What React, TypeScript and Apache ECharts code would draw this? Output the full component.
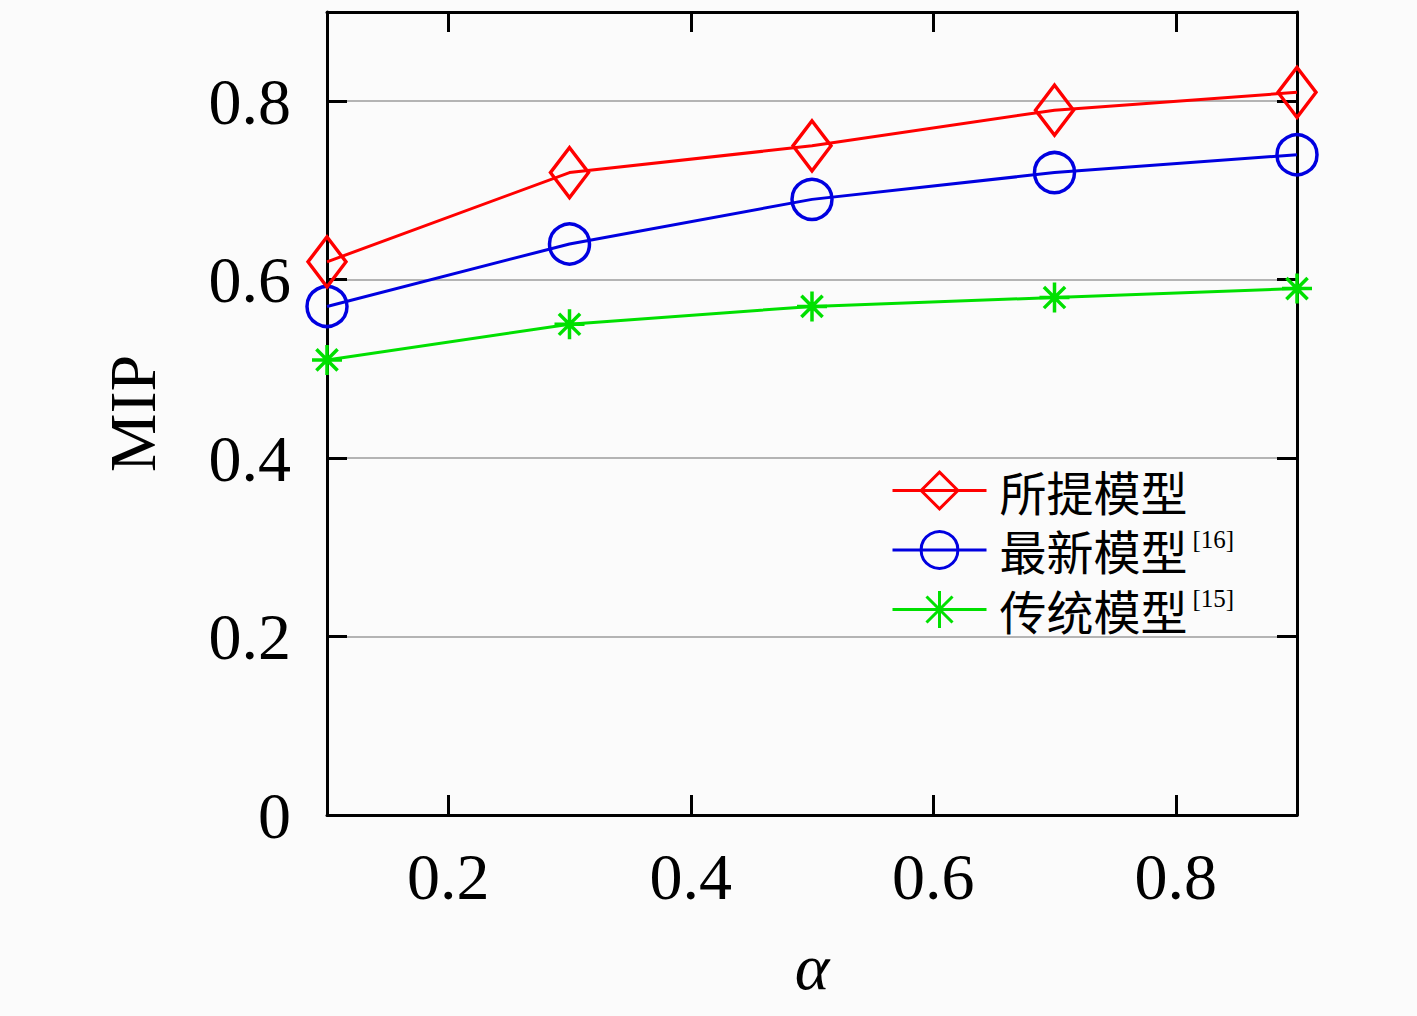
import React, { useRef, useEffect } from 'react';
import * as echarts from 'echarts';

const alphaValues = [0.1, 0.3, 0.5, 0.7, 0.9];
const proposedMip = [0.62, 0.72, 0.75, 0.79, 0.81];
const latestMip = [0.57, 0.64, 0.69, 0.72, 0.74];
const traditionalMip = [0.51, 0.55, 0.57, 0.58, 0.59];
const xTicks = [0.2, 0.4, 0.6, 0.8];
const seriesNames = ['所提模型', '最新模型', '传统模型'];
const refMarks: Record<string, string> = { '最新模型': '[16]', '传统模型': '[15]' };

const STAR = 'path://M0,-10L0,10M-10,0L10,0M-7.07,-7.07L7.07,7.07M-7.07,7.07L7.07,-7.07';
const SERIF = 'Liberation Serif';

const pairs = (ys: number[]) => alphaValues.map((x, i) => [x, ys[i]]);

const App: React.FC = () => {
  const chartRef = useRef<HTMLDivElement>(null);

  useEffect(() => {
    const chart = echarts.init(chartRef.current, null, { renderer: 'svg' });

    const tickStyle = { show: true, inside: true, length: 20, lineStyle: { color: '#000', width: 3 } };
    const lineAxis = { show: true, onZero: false, lineStyle: { color: '#000', width: 3 } };

    const option = {
      animation: false,
      backgroundColor: '#fbfbfb',
      grid: { left: 327, right: 120, top: 12, bottom: 201 },
      legend: {
        left: 886,
        top: 462,
        orient: 'vertical',
        selectedMode: false,
        itemWidth: 94,
        itemHeight: 46,
        itemGap: 12.5,
        data: seriesNames,
        lineStyle: { width: 3 },
        itemStyle: { borderWidth: 3 },
        formatter: (name: string) => (refMarks[name] ? `${name}{s|${refMarks[name]}}` : name),
        textStyle: {
          color: '#000',
          fontSize: 47,
          lineHeight: 46,
          fontFamily: 'Noto Sans CJK SC',
          padding: [0, 0, 0, 8],
          rich: {
            s: { fontSize: 25, lineHeight: 25, fontFamily: SERIF, color: '#000', verticalAlign: 'top', padding: [0, 0, 0, 5] },
          },
        },
      },
      xAxis: [
        {
          type: 'value',
          min: 0.1,
          max: 0.9,
          name: 'α',
          nameLocation: 'middle',
          nameGap: 118,
          nameTextStyle: { fontSize: 66, fontFamily: SERIF, fontStyle: 'italic', color: '#000' },
          axisLine: lineAxis,
          axisTick: { ...tickStyle, customValues: xTicks },
          axisLabel: { customValues: xTicks, fontSize: 66, fontFamily: SERIF, color: '#000', margin: 28 },
          splitLine: { show: false },
        },
        {
          type: 'value',
          position: 'top',
          min: 0.1,
          max: 0.9,
          axisLine: lineAxis,
          axisTick: { ...tickStyle, customValues: xTicks },
          axisLabel: { show: false, customValues: xTicks },
          splitLine: { show: false },
        },
      ],
      yAxis: [
        {
          type: 'value',
          min: 0,
          max: 0.9,
          interval: 0.2,
          name: 'MIP',
          nameLocation: 'middle',
          nameGap: 162,
          nameTextStyle: { fontSize: 66, fontFamily: SERIF, color: '#000' },
          axisLine: lineAxis,
          axisTick: tickStyle,
          axisLabel: {
            fontSize: 66,
            fontFamily: SERIF,
            color: '#000',
            margin: 36,
            formatter: (v: number) => (v > 0.85 ? '' : String(Math.round(v * 10) / 10)),
          },
          splitLine: {
            show: true,
            showMinLine: false,
            showMaxLine: false,
            lineStyle: { color: '#b4b4b4', width: 2 },
          },
        },
        {
          type: 'value',
          position: 'right',
          min: 0,
          max: 0.9,
          interval: 0.2,
          axisLine: lineAxis,
          axisTick: tickStyle,
          axisLabel: { show: false },
          splitLine: { show: false },
        },
      ],
      series: [
        {
          name: seriesNames[0],
          type: 'line',
          data: pairs(proposedMip),
          symbol: 'diamond',
          symbolSize: [38, 50],
          clip: false,
          lineStyle: { color: '#ff0000', width: 3 },
          itemStyle: { color: 'rgba(0,0,0,0)', borderColor: '#ff0000', borderWidth: 3.5 },
          z: 4,
        },
        {
          name: seriesNames[1],
          type: 'line',
          data: pairs(latestMip),
          symbol: 'circle',
          symbolSize: 40,
          clip: false,
          lineStyle: { color: '#0000e0', width: 3 },
          itemStyle: { color: 'rgba(0,0,0,0)', borderColor: '#0000e0', borderWidth: 3.5 },
          z: 3,
        },
        {
          name: seriesNames[2],
          type: 'line',
          data: pairs(traditionalMip),
          symbol: STAR,
          symbolSize: 30,
          clip: false,
          lineStyle: { color: '#00e000', width: 3 },
          itemStyle: { color: '#00e000', borderColor: '#00e000', borderWidth: 3.5 },
          z: 2,
        },
      ],
    };

    chart.setOption(option);
    return () => {
      chart.dispose();
    };
  }, []);

  return (
    <div
      ref={chartRef}
      style={{ position: 'absolute', left: 0, top: 0, width: '1417px', height: '1016px' }}
    />
  );
};

export default App;
